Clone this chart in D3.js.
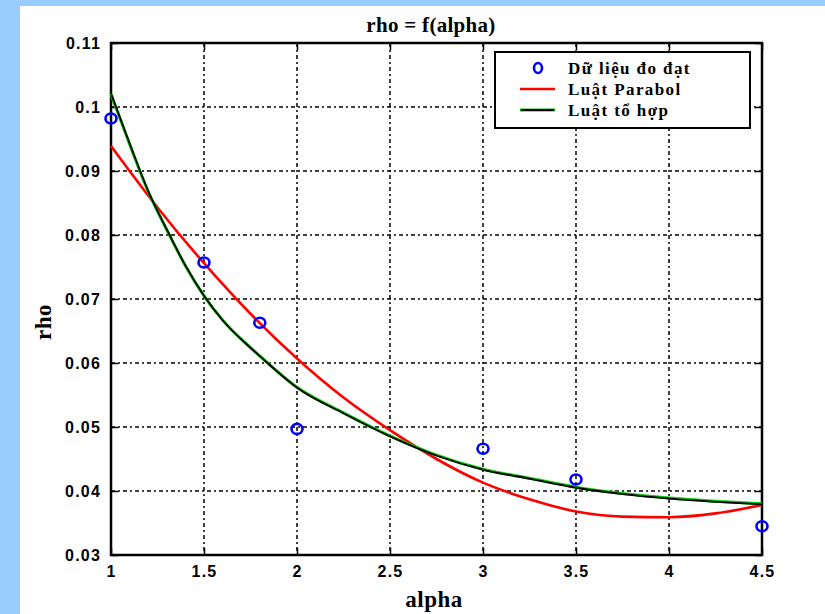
<!DOCTYPE html>
<html>
<head>
<meta charset="utf-8">
<script src="https://cdn.jsdelivr.net/npm/d3@7"></script>
<style>
  html, body { margin: 0; padding: 0; background: #99ccff; }
  svg { display: block; }
</style>
</head>
<body>
<svg id="chart" width="825" height="614"></svg>
<script>
// ---- Data ----
const dataAlpha = [1, 1.5, 1.8, 2, 3, 3.5, 4.5];
const dataRho   = [0.0982, 0.0757, 0.0663, 0.0497, 0.0466, 0.0418, 0.0345];

const parabolAlpha = [1, 1.25, 1.5, 1.75, 2, 2.25, 2.5, 2.75, 3, 3.25, 3.5, 3.75, 4, 4.25, 4.5];
const parabolRho   = [0.0939, 0.0843, 0.0756, 0.0677, 0.0607, 0.0546, 0.0495, 0.0450, 0.0413, 0.0387, 0.0368, 0.0360, 0.0359, 0.0365, 0.0378];

const tohopAlpha = [1, 1.1, 1.2, 1.3, 1.4, 1.5, 1.6, 1.75, 1.8, 2, 2.25, 2.5, 2.75, 3, 3.25, 3.5, 3.75, 4, 4.25, 4.5];
const tohopRho   = [0.1020, 0.0942, 0.0868, 0.0808, 0.0752, 0.0705, 0.0667, 0.0624, 0.0611, 0.0562, 0.0522, 0.0486, 0.0456, 0.0434, 0.0420, 0.0406, 0.0396, 0.0389, 0.0384, 0.0380];

const xTicks = [1, 1.5, 2, 2.5, 3, 3.5, 4, 4.5];
const xTickLabels = ["1", "1.5", "2", "2.5", "3", "3.5", "4", "4.5"];
const yTicks = [0.03, 0.04, 0.05, 0.06, 0.07, 0.08, 0.09, 0.1, 0.11];
const yTickLabels = ["0.03", "0.04", "0.05", "0.06", "0.07", "0.08", "0.09", "0.1", "0.11"];

const legendLabels = ["Dữ liệu đo đạt", "Luật Parabol", "Luật tổ hợp"];
const titleText = "rho = f(alpha)";
const xLabelText = "alpha";
const yLabelText = "rho";

// ---- Layout ----
const svg = d3.select("#chart");
const L = 111, R = 762, T = 43, B = 555;

svg.append("rect").attr("x", 20).attr("y", 6).attr("width", 805).attr("height", 608).attr("fill", "#ffffff");

const x = d3.scaleLinear().domain([1, 4.5]).range([L, R]);
const y = d3.scaleLinear().domain([0.03, 0.11]).range([B, T]);

const gridDash = "4,3,2,3";
// grid
const grid = svg.append("g");
grid.selectAll("line.vx").data(xTicks.slice(1, -1)).join("line")
  .attr("x1", d => x(d)).attr("x2", d => x(d)).attr("y1", T).attr("y2", B)
  .attr("stroke", "#000").attr("stroke-width", 1.5).attr("stroke-dasharray", gridDash);
grid.selectAll("line.hy").data(yTicks.slice(1, -1)).join("line")
  .attr("x1", L).attr("x2", R).attr("y1", d => y(d)).attr("y2", d => y(d))
  .attr("stroke", "#000").attr("stroke-width", 1.5).attr("stroke-dasharray", gridDash);

// axes (inward ticks)
const tickFont = "bold 16px 'Liberation Sans', Arial, sans-serif";
const xAxis = d3.axisBottom(x).tickValues(xTicks).tickSize(-7).tickPadding(11)
  .tickFormat((d, i) => xTickLabels[i]);
const gx = svg.append("g").attr("transform", `translate(0,${B})`).call(xAxis);
const xTop = d3.axisTop(x).tickValues(xTicks).tickSize(-7).tickFormat("");
const gxt = svg.append("g").attr("transform", `translate(0,${T})`).call(xTop);
const yAxis = d3.axisLeft(y).tickValues(yTicks).tickSize(-7).tickPadding(10)
  .tickFormat((d, i) => yTickLabels[i]);
const gy = svg.append("g").attr("transform", `translate(${L},0)`).call(yAxis);
const yRight = d3.axisRight(y).tickValues(yTicks).tickSize(-7).tickFormat("");
const gyr = svg.append("g").attr("transform", `translate(${R},0)`).call(yRight);

[gx, gxt, gy, gyr].forEach(g => {
  g.select(".domain").remove();
  g.selectAll(".tick line").attr("stroke", "#000").attr("stroke-width", 1.5);
  g.selectAll(".tick text").style("font", tickFont).style("letter-spacing", "1.2px").attr("fill", "#000");
});

// box
svg.append("rect").attr("x", L).attr("y", T).attr("width", R - L).attr("height", B - T)
  .attr("fill", "none").attr("stroke", "#000").attr("stroke-width", 2.5);

// lines
const lineGen = d3.line().x(d => x(d[0])).y(d => y(d[1])).curve(d3.curveMonotoneX);
const parabolPts = parabolAlpha.map((a, i) => [a, parabolRho[i]]);
const tohopPts = tohopAlpha.map((a, i) => [a, tohopRho[i]]);

svg.append("path").datum(parabolPts).attr("d", lineGen)
  .attr("fill", "none").attr("stroke", "#ff0000").attr("stroke-width", 2.6);
svg.append("path").datum(tohopPts).attr("d", lineGen)
  .attr("fill", "none").attr("stroke", "#00cc00").attr("stroke-width", 3);
svg.append("path").datum(tohopPts).attr("d", lineGen)
  .attr("fill", "none").attr("stroke", "#000000").attr("stroke-width", 1.8)
  .attr("transform", "translate(0.5,0.6)");

// data points
svg.append("g").selectAll("ellipse").data(dataAlpha.map((a, i) => [a, dataRho[i]])).join("ellipse")
  .attr("cx", d => x(d[0])).attr("cy", d => y(d[1])).attr("rx", 5.5).attr("ry", 5)
  .attr("fill", "none").attr("stroke", "#0000ff").attr("stroke-width", 2.6);

// legend
const lg = svg.append("g");
lg.append("rect").attr("x", 495).attr("y", 52).attr("width", 255).attr("height", 76)
  .attr("fill", "#fff").attr("stroke", "#000").attr("stroke-width", 2);
const rows = [68, 89, 110];
lg.append("ellipse").attr("cx", 538).attr("cy", rows[0]).attr("rx", 4).attr("ry", 5)
  .attr("fill", "none").attr("stroke", "#0000ff").attr("stroke-width", 2.6);
lg.append("line").attr("x1", 520).attr("x2", 555).attr("y1", rows[1]).attr("y2", rows[1])
  .attr("stroke", "#ff0000").attr("stroke-width", 2.6);
lg.append("line").attr("x1", 520).attr("x2", 555).attr("y1", rows[2]).attr("y2", rows[2])
  .attr("stroke", "#00cc00").attr("stroke-width", 3);
lg.append("line").attr("x1", 521).attr("x2", 554).attr("y1", rows[2]).attr("y2", rows[2])
  .attr("stroke", "#000").attr("stroke-width", 2);
lg.selectAll("text").data(legendLabels).join("text")
  .attr("x", 568).attr("y", (d, i) => rows[i] + 6)
  .style("font", "bold 17px 'Liberation Serif', 'Times New Roman', serif")
  .style("letter-spacing", "1.4px")
  .attr("fill", "#000").text(d => d);

// title & labels
const serif = "'Liberation Serif', 'Times New Roman', serif";
svg.append("text").attr("x", 431).attr("y", 32).attr("text-anchor", "middle")
  .style("font", `bold 21px ${serif}`).style("letter-spacing", "0.3px").attr("fill", "#000").text(titleText);
svg.append("text").attr("x", 434).attr("y", 607).attr("text-anchor", "middle")
  .style("font", `bold 23px ${serif}`).style("letter-spacing", "0.5px").attr("fill", "#000").text(xLabelText);
svg.append("text").attr("transform", "translate(51,322) rotate(-90)").attr("text-anchor", "middle")
  .style("font", `bold 23px ${serif}`).style("letter-spacing", "0.5px").attr("fill", "#000").text(yLabelText);
</script>
</body>
</html>
